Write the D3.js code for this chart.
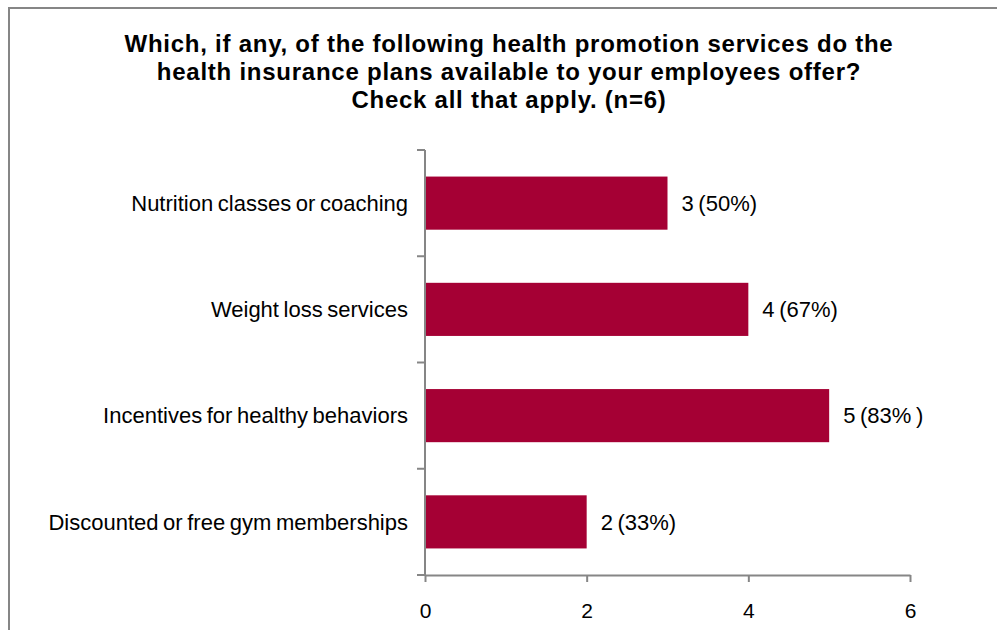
<!DOCTYPE html>
<html>
<head>
<meta charset="utf-8">
<script src="https://cdn.jsdelivr.net/npm/d3@7"></script>
<style>
  html, body { margin: 0; padding: 0; background: #fff; }
  svg { display: block; }
  text { font-family: "Liberation Sans", Arial, sans-serif; fill: #000; }
</style>
</head>
<body>
<svg id="chart" width="997" height="630"></svg>
<script>
// Survey responses (n = 6)
const categories = [
  "Nutrition classes or coaching",
  "Weight loss services",
  "Incentives for healthy behaviors",
  "Discounted or free gym memberships"
];
const counts = [3, 4, 5, 2];
const valueLabels = ["3 (50%)", "4 (67%)", "5 (83% )", "2 (33%)"];
const xTicks = [0, 2, 4, 6];
const titleLines = [
  "Which, if any, of the following health promotion services do the",
  "health insurance plans available to your employees offer?",
  "Check all that apply. (n=6)"
];

const svg = d3.select("#chart");
const barColor = "#A50034";
const axisColor = "#868686";

// frame around the chart area
svg.append("rect")
  .attr("x", 9).attr("y", 8)
  .attr("width", 1000).attr("height", 640)
  .attr("fill", "none")
  .attr("stroke", axisColor)
  .attr("stroke-width", 2);

// title
svg.append("g").selectAll("text")
  .data(titleLines)
  .join("text")
  .attr("x", 509)
  .attr("y", (d, i) => 52 + i * 28)
  .attr("text-anchor", "middle")
  .style("font-weight", "bold")
  .style("font-size", "24px")
  .style("letter-spacing", "0.75px")
  .text(d => d);

const x = d3.scaleLinear().domain([0, 6]).range([425, 910]);
const y = d3.scaleBand().domain(categories).range([150, 575])
  .paddingInner(0.5).paddingOuter(0.25);

// bars
svg.append("g").selectAll("rect")
  .data(categories)
  .join("rect")
  .attr("x", x(0))
  .attr("y", d => y(d))
  .attr("width", (d, i) => x(counts[i]) - x(0))
  .attr("height", y.bandwidth())
  .attr("fill", barColor);

// value labels
svg.append("g").selectAll("text")
  .data(categories)
  .join("text")
  .attr("x", (d, i) => x(counts[i]) + 14)
  .attr("y", d => y(d) + y.bandwidth() / 2)
  .attr("dy", "0.35em")
  .style("font-size", "22px")
  .style("word-spacing", "-1.5px")
  .text((d, i) => valueLabels[i]);

// category axis: line plus ticks at the band boundaries
const cat = svg.append("g");
cat.append("line")
  .attr("x1", x(0)).attr("x2", x(0))
  .attr("y1", 150).attr("y2", 575)
  .attr("stroke", axisColor).attr("stroke-width", 2);
const step = y.step();
const bounds = d3.range(categories.length + 1).map(i => 150 + i * step);
cat.selectAll("line.tick")
  .data(bounds)
  .join("line")
  .attr("class", "tick")
  .attr("x1", x(0) - 8).attr("x2", x(0))
  .attr("y1", d => d).attr("y2", d => d)
  .attr("stroke", axisColor).attr("stroke-width", 2);
cat.selectAll("text")
  .data(categories)
  .join("text")
  .attr("x", 408)
  .attr("y", d => y(d) + y.bandwidth() / 2)
  .attr("dy", "0.35em")
  .attr("text-anchor", "end")
  .style("font-size", "22px")
  .style("word-spacing", "-1.5px")
  .text(d => d);

// value axis
const xAxis = d3.axisBottom(x)
  .tickValues(xTicks)
  .tickFormat(d3.format("d"))
  .tickSize(7).tickSizeOuter(0).tickPadding(21);
const gx = svg.append("g")
  .attr("transform", "translate(0,575)")
  .call(xAxis);
gx.select(".domain").attr("stroke", axisColor).attr("stroke-width", 2);
gx.selectAll(".tick line").attr("stroke", axisColor).attr("stroke-width", 2);
gx.selectAll(".tick text")
  .style("font-size", "21px")
  .style("font-family", "'Liberation Sans', Arial, sans-serif")
  .attr("fill", "#000");
</script>
</body>
</html>
